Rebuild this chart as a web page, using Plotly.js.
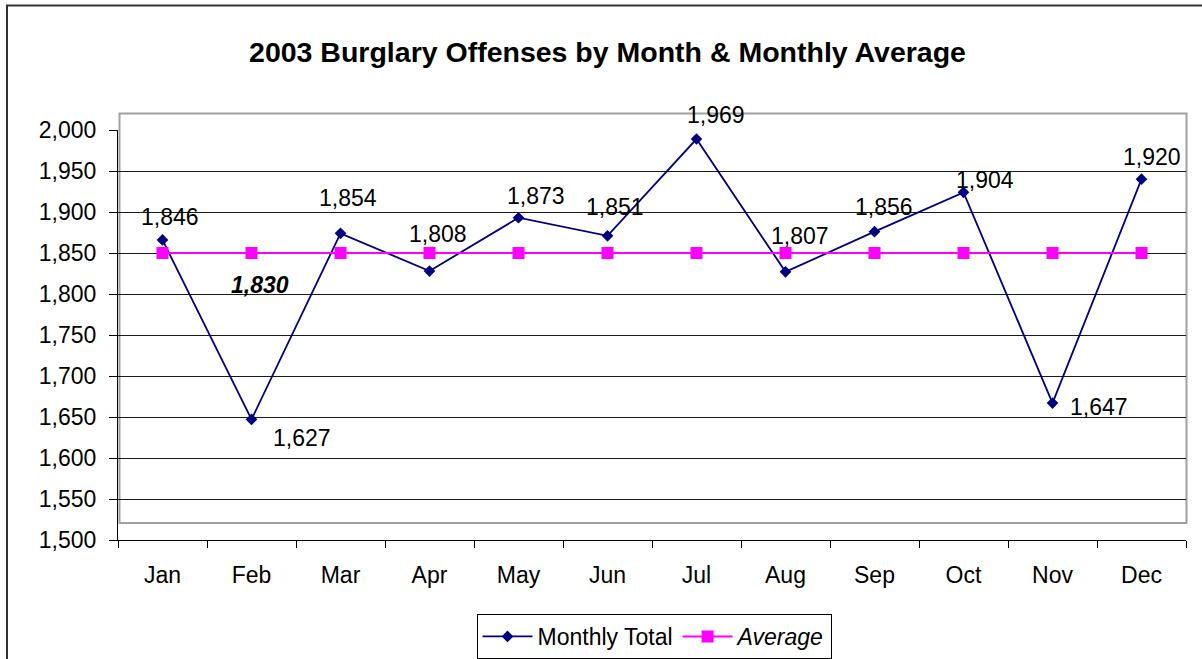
<!DOCTYPE html>
<html>
<head>
<meta charset="utf-8">
<script src="https://cdn.plot.ly/plotly-3.0.1.min.js"></script>
<style>
  html, body { margin: 0; padding: 0; background: #fff; }
  #chart { width: 1202px; height: 659px; }
</style>
</head>
<body>
<div id="chart"></div>
<script>
// ---- data ----
const months = ['Jan','Feb','Mar','Apr','May','Jun','Jul','Aug','Sep','Oct','Nov','Dec'];
const monthlyTotals = [1846, 1627, 1854, 1808, 1873, 1851, 1969, 1807, 1856, 1904, 1647, 1920];
const averageValues = [1830, 1830, 1830, 1830, 1830, 1830, 1830, 1830, 1830, 1830, 1830, 1830];
const yTickLabels = ['1,500','1,550','1,600','1,650','1,700','1,750','1,800','1,850','1,900','1,950','2,000'];

// ---- layout config (label placement in screen pixels) ----
const labelShift = [[7,-23.5],[50,18],[7.5,-36.6],[8.8,-37.7],[17,-23],[7.3,-29.7],
                    [19.5,-25],[14,-37],[9.7,-25.5],[21.5,-13],[46,2.5],[10,-23]];
const avgLabelShift = [8.5, 31.4];
const axisShift = 20; // the printed scale in the original sits 20 above the plotted values

const FONT = 'Arial, "Liberation Sans", sans-serif';
const fmt = v => v.toLocaleString('en-US');

const yTickVals = yTickLabels.map(t => Number(t.replace(',', '')) - axisShift);

const traces = [
  {
    type: 'scatter', mode: 'lines+markers', name: 'Monthly Total',
    x: months, y: monthlyTotals,
    line: { color: '#000080', width: 1.8 },
    marker: { symbol: 'diamond', size: 9, color: '#000080' },
    hoverinfo: 'x+y'
  },
  {
    type: 'scatter', mode: 'lines+markers', name: '<i>Average</i>',
    x: months, y: averageValues,
    line: { color: '#FF00FF', width: 2 },
    marker: { symbol: 'square', size: 12, color: '#FF00FF' },
    hoverinfo: 'x+y'
  }
];

const annotations = monthlyTotals.map((v, i) => ({
  x: months[i], y: v, xref: 'x', yref: 'y',
  text: fmt(v), showarrow: false,
  xanchor: 'center', yanchor: 'middle',
  xshift: labelShift[i][0], yshift: -labelShift[i][1] - 1,
  font: { family: FONT, size: 23, color: '#000' }
}));
annotations.push({
  x: months[1], y: averageValues[1], xref: 'x', yref: 'y',
  text: '<b><i>' + fmt(averageValues[1]) + '</i></b>', showarrow: false,
  xanchor: 'center', yanchor: 'middle',
  xshift: avgLabelShift[0], yshift: -avgLabelShift[1] - 1,
  font: { family: FONT, size: 23, color: '#000' }
});

const W = 1068, H = 410, L = 118, T = 130;
const px = x => (x - L) / W;
const py = y => (T + H - y) / H;

const layout = {
  width: 1202, height: 659,
  margin: { l: L, r: 1202 - L - W, t: T, b: 659 - T - H, pad: 0, autoexpand: false },
  paper_bgcolor: '#fff', plot_bgcolor: 'rgba(0,0,0,0)',
  font: { family: FONT, size: 23, color: '#000' },
  title: {
    text: '<b>2003 Burglary Offenses by Month & Monthly Average</b>',
    font: { family: FONT, size: 28.5, color: '#000' },
    x: 607.5 / 1202, xanchor: 'center', xref: 'container',
    y: 1 - 52.5 / 659, yanchor: 'middle', yref: 'container',
    automargin: false
  },
  xaxis: {
    type: 'category', range: [-0.5, 11.5],
    showgrid: false, zeroline: false,
    showline: true, linecolor: '#000', linewidth: 1,
    ticks: 'outside', tickson: 'boundaries', ticklen: 7, tickcolor: '#000', tickwidth: 1,
    ticklabelstandoff: 14,
    tickfont: { family: FONT, size: 23, color: '#000' },
    automargin: false, fixedrange: true
  },
  yaxis: {
    range: [1480, 1980],
    tickvals: yTickVals, ticktext: yTickLabels,
    showgrid: true, gridcolor: '#1a1a1a', gridwidth: 1,
    zeroline: false,
    showline: true, linecolor: '#000', linewidth: 1,
    ticks: 'outside', ticklen: 8, tickcolor: '#000', tickwidth: 1,
    ticklabelstandoff: 8,
    tickfont: { family: FONT, size: 23, color: '#000' },
    automargin: false, fixedrange: true
  },
  showlegend: true,
  legend: {
    orientation: 'h', x: 654 / 1202, xref: 'container', xanchor: 'center',
    y: 1 - 614 / 659, yref: 'container', yanchor: 'top',
    bgcolor: '#fff', bordercolor: '#000', borderwidth: 1,
    font: { family: FONT, size: 23, color: '#000' },
    valign: 'top', itemwidth: 50, tracegroupgap: 0
  },
  shapes: [
    { type: 'rect', xref: 'paper', yref: 'paper', layer: 'below',
      x0: px(119.5), x1: px(1186.5), y0: py(523), y1: py(113.5),
      line: { color: '#a0a0a0', width: 2 }, fillcolor: 'rgba(0,0,0,0)' },
    { type: 'rect', xref: 'paper', yref: 'paper', layer: 'above',
      x0: px(7), x1: px(1215), y0: py(680), y1: py(5.5),
      line: { color: '#303030', width: 2 }, fillcolor: 'rgba(0,0,0,0)' }
  ],
  annotations: annotations
};

Plotly.newPlot('chart', traces, layout, { displayModeBar: false, staticPlot: true });
</script>
</body>
</html>
